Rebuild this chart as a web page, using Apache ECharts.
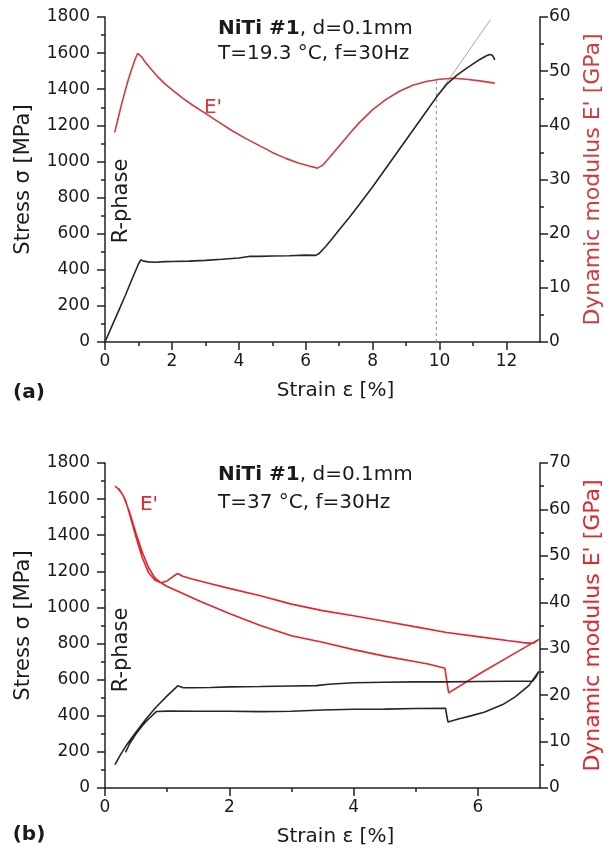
<!DOCTYPE html>
<html>
<head>
<meta charset="utf-8">
<script src="https://cdn.jsdelivr.net/npm/echarts@6/dist/echarts.min.js"></script>
<style>html,body{margin:0;padding:0;background:#fff}#c{width:612px;height:857px}</style>
</head>
<body>
<div id="c"></div>
<script>
// ---------- data: panel (a), T=19.3 °C ----------
var stressA = [[0,0],[0.2,85],[0.4,170],[0.6,255],[0.8,345],[1.0,432],[1.07,455],[1.15,448],[1.3,444],[1.5,442],[1.8,445],[2.0,446],[2.5,448],[3.0,452],[3.5,458],[4.0,465],[4.3,474],[4.6,474],[5.0,476],[5.5,478],[6.0,481],[6.3,480],[6.4,490],[6.6,530],[6.8,575],[7.0,622],[7.3,690],[7.6,762],[8.0,860],[8.5,990],[9.0,1120],[9.5,1250],[9.9,1355],[10.2,1425],[10.5,1475],[10.8,1515],[11.0,1540],[11.2,1565],[11.4,1585],[11.5,1592],[11.58,1588],[11.65,1562]];
var modulusA = [[0.29,38.7],[0.4,41.5],[0.5,44],[0.6,46.3],[0.7,48.5],[0.8,50.4],[0.9,52.2],[0.98,53.3],[1.03,53.4],[1.1,52.6],[1.2,51.7],[1.4,50.2],[1.6,48.8],[1.8,47.6],[2.0,46.6],[2.3,45.1],[2.6,43.8],[3.0,42.2],[3.4,40.6],[3.8,39.0],[4.2,37.6],[4.6,36.3],[5.0,35.0],[5.4,33.9],[5.8,33.0],[6.1,32.5],[6.35,32.1],[6.5,32.6],[6.7,34.0],[7.0,36.2],[7.3,38.4],[7.6,40.5],[8.0,42.9],[8.4,44.8],[8.8,46.3],[9.2,47.4],[9.6,48.1],[10.0,48.5],[10.4,48.7],[10.8,48.5],[11.2,48.2],[11.65,47.8]];
var tangentA = [[9.9,1355],[11.52,1785]];
var markerStrainA = [[9.9,0],[9.9,1452]];

// ---------- data: panel (b), T=37 °C ----------
var stressB = [[0.16,129],[0.25,185],[0.35,240],[0.5,310],[0.65,378],[0.82,447],[1.0,510],[1.17,566],[1.25,556],[1.4,555],[1.7,557],[2.0,560],[2.5,562],[3.0,565],[3.4,567],[3.6,575],[4.0,583],[4.5,586],[5.0,588],[5.5,588],[6.0,590],[6.5,591],[6.88,591],[6.94,618],[6.98,646],[6.82,567],[6.6,505],[6.4,462],[6.1,420],[5.87,398],[5.7,383],[5.52,365],[5.5,400],[5.48,442],[5.0,440],[4.5,437],[4.0,436],[3.5,432],[3.0,425],[2.5,423],[2.0,425],[1.5,425],[1.0,426],[0.83,424],[0.7,382],[0.6,345],[0.5,300],[0.4,248],[0.33,197]];
var modulusB = [[0.16,65],[0.2,64.6],[0.27,63.5],[0.33,62],[0.4,58.8],[0.5,54],[0.6,49.6],[0.7,46.4],[0.8,44.8],[0.9,44.2],[1.0,44.6],[1.1,45.6],[1.17,46.2],[1.25,45.6],[1.4,45.0],[1.7,44.0],[2.0,43.0],[2.5,41.4],[3.0,39.6],[3.5,38.2],[4.0,37.1],[4.5,35.9],[5.0,34.7],[5.5,33.5],[6.0,32.6],[6.5,31.7],[6.8,31.2],[6.9,31.2],[6.98,32.0],[6.5,28.3],[6.0,24.4],[5.53,20.5],[5.5,23],[5.47,25.8],[5.2,26.7],[5.0,27.2],[4.5,28.4],[4.0,29.8],[3.5,31.4],[3.0,32.8],[2.5,35.0],[2.0,37.6],[1.5,40.4],[1.2,42.2],[1.0,43.4],[0.9,44.2],[0.8,45.3],[0.7,47.5],[0.6,50.8],[0.5,54.8],[0.4,59.2],[0.3,62.8],[0.22,64.5]];

// ---------- tick labels ----------
var xMajorA = [0,2,4,6,8,10,12];
var xMinorA = [1,3,5,7,9,11];
var xMajorB = [0,2,4,6];
var xMinorB = [1,3,5];

var FONT = 'DejaVu Sans';
var INK = '#1a1a1a';
var RED_A = '#d3393f';
var RED_B = '#e8232a';
var AXL = {color: '#222', width: 1.5};

function plain(v) { return String(v); }

function xMain(grid, max, majors) {
  return {
    gridIndex: grid, type: 'value', min: 0, max: max, interval: 2,
    axisLine: {show: true, onZero: false, lineStyle: AXL},
    axisTick: {show: true, length: 8, customValues: majors, lineStyle: AXL},
    axisLabel: {customValues: majors, formatter: plain, margin: 11, fontFamily: FONT, fontSize: 17, color: INK},
    splitLine: {show: false},
    name: 'Strain ε [%]', nameLocation: 'middle', nameGap: 39,
    nameTextStyle: {fontFamily: FONT, fontSize: 20, color: INK, padding: [0, 0, 0, 26]}
  };
}
function xMinor(grid, max, minors) {
  return {
    gridIndex: grid, type: 'value', min: 0, max: max, position: 'bottom', interval: 1,
    axisLine: {show: false},
    axisTick: {show: true, length: 4, customValues: minors, lineStyle: AXL},
    axisLabel: {show: false}, splitLine: {show: false}
  };
}
function yLeft(grid) {
  return {
    gridIndex: grid, type: 'value', position: 'left', min: 0, max: 1800, interval: 200,
    axisLine: {show: true, onZero: false, lineStyle: AXL},
    axisTick: {show: true, length: 8, lineStyle: AXL},
    minorTick: {show: true, splitNumber: 2, length: 4, lineStyle: AXL},
    axisLabel: {formatter: plain, margin: 15, fontFamily: FONT, fontSize: 17, color: INK},
    splitLine: {show: false},
    name: 'Stress σ [MPa]', nameLocation: 'middle', nameGap: 71, nameRotate: 90,
    nameTextStyle: {fontFamily: FONT, fontSize: 21, color: INK}
  };
}
function yRight(grid, max, red) {
  return {
    gridIndex: grid, type: 'value', position: 'right', min: 0, max: max, interval: 10,
    axisLine: {show: true, onZero: false, lineStyle: AXL},
    axisTick: {show: true, length: 8, lineStyle: AXL},
    minorTick: {show: true, splitNumber: 2, length: 4, lineStyle: AXL},
    axisLabel: {formatter: plain, margin: 9, fontFamily: FONT, fontSize: 17, color: INK},
    splitLine: {show: false},
    name: "Dynamic modulus E' [GPa]", nameLocation: 'middle', nameGap: 42, nameRotate: 90,
    nameTextStyle: {fontFamily: FONT, fontSize: 22, color: red}
  };
}
function line(name, xi, yi, data, color, width, type) {
  return {
    name: name, type: 'line', xAxisIndex: xi, yAxisIndex: yi, data: data,
    showSymbol: false, symbol: 'none', smooth: false, silent: true, animation: false,
    lineStyle: {color: color, width: width, type: type || 'solid'}, z: 3
  };
}
function txt(x, y, text, opts) {
  opts = opts || {};
  var size = opts.size || 20;
  return {
    type: 'text', x: x, y: y, rotation: opts.rot || 0, silent: true, z: 10,
    style: {
      text: text, fill: opts.color || INK, fontFamily: FONT,
      fontSize: size, fontWeight: opts.bold ? 'bold' : 'normal',
      align: opts.align || 'left', verticalAlign: 'middle',
      rich: {b: {fontFamily: FONT, fontSize: size, fontWeight: 'bold', fill: INK}}
    }
  };
}

var chart = echarts.init(document.getElementById('c'), null, {renderer: 'canvas'});
chart.setOption({
  backgroundColor: '#fff',
  animation: false,
  grid: [
    {left: 105, top: 17, width: 441, height: 325},
    {left: 105, top: 463, width: 440, height: 325}
  ],
  xAxis: [xMain(0, 13, xMajorA), xMinor(0, 13, xMinorA), xMain(1, 7, xMajorB), xMinor(1, 7, xMinorB)],
  yAxis: [yLeft(0), yRight(0, 60, RED_A), yLeft(1), yRight(1, 70, RED_B)],
  series: [
    line('dashed', 0, 0, markerStrainA, '#8a8a8a', 1, [3, 3]),
    line('tangent', 0, 0, tangentA, '#a8a8a8', 1),
    line("E' (a)", 0, 1, modulusA, RED_A, 1.6),
    line('stress (a)', 0, 0, stressA, '#262626', 1.6),
    line("E' (b)", 2, 3, modulusB, RED_B, 1.6),
    line('stress (b)', 2, 2, stressB, '#262626', 1.6)
  ],
  graphic: [
    txt(218, 29, '{b|NiTi #1}, d=0.1mm', {size: 20}),
    txt(218, 54, 'T=19.3 °C, f=30Hz', {size: 20}),
    txt(213, 108, "E'", {color: RED_A, align: 'center'}),
    txt(122, 201, 'R-phase', {rot: Math.PI / 2, align: 'center', size: 21}),
    txt(29, 393, '(a)', {bold: true, align: 'center'}),
    txt(218, 475, '{b|NiTi #1}, d=0.1mm', {size: 20}),
    txt(218, 503, 'T=37 °C, f=30Hz', {size: 20}),
    txt(149, 505, "E'", {color: RED_B, align: 'center'}),
    txt(122, 650, 'R-phase', {rot: Math.PI / 2, align: 'center', size: 21}),
    txt(29, 835, '(b)', {bold: true, align: 'center'})
  ]
});
</script>
</body>
</html>
